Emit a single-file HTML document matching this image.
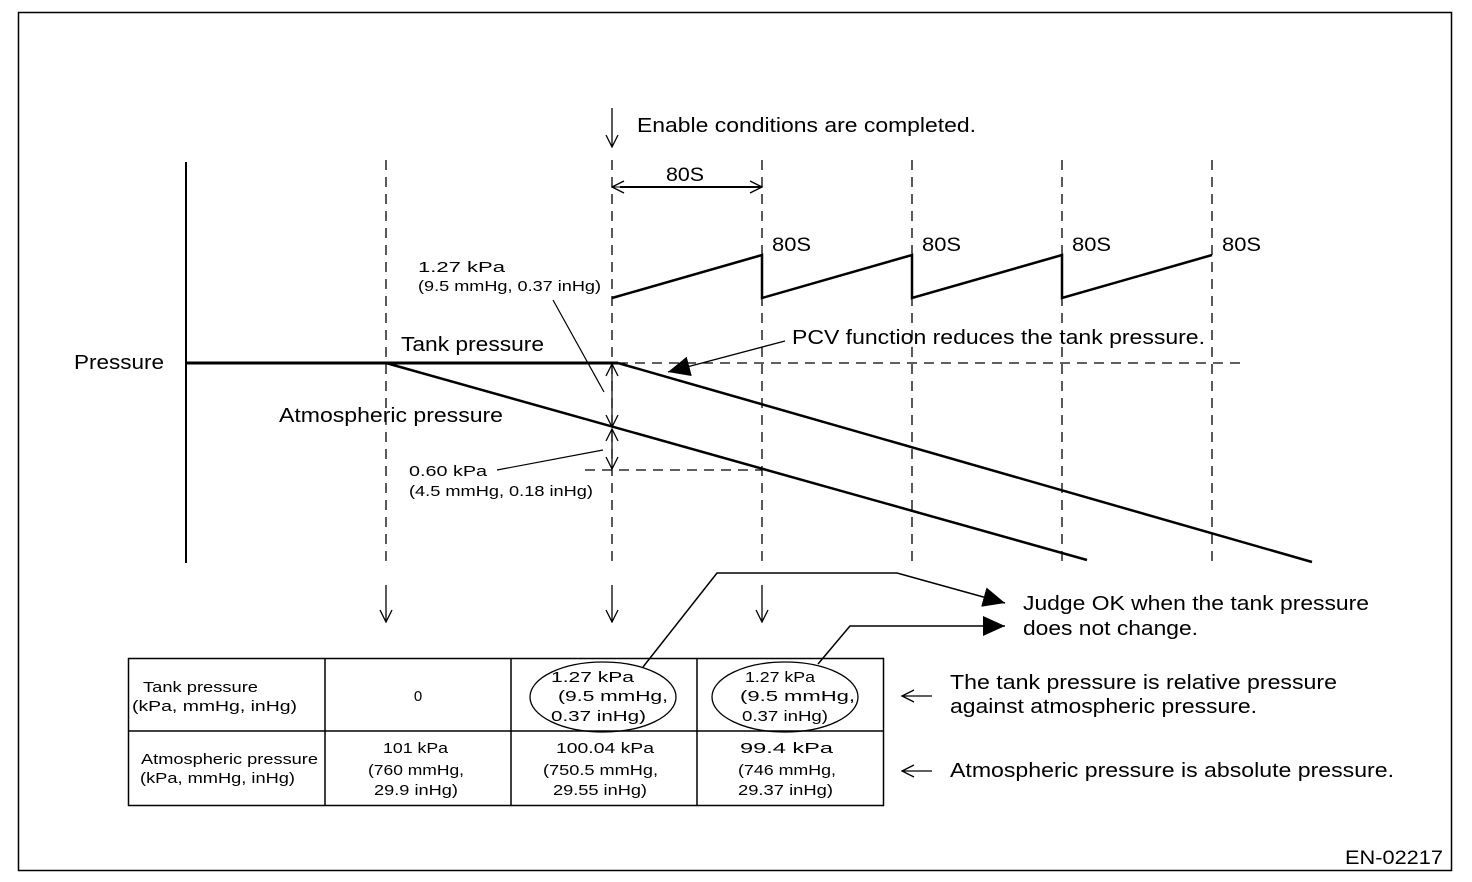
<!DOCTYPE html>
<html><head><style>
html,body{margin:0;padding:0;background:#fff}
svg{display:block}
text{font-family:"Liberation Sans",sans-serif;fill:#000}
</style></head><body>
<svg width="1472" height="882" viewBox="0 0 1472 882" xmlns="http://www.w3.org/2000/svg">
<defs>
<marker id="open" markerWidth="14" markerHeight="14" refX="13" refY="7" orient="auto" markerUnits="userSpaceOnUse"><path d="M1,1 L13,7 L1,13" fill="none" stroke="#000" stroke-width="1.3"/></marker>
<marker id="fill" markerWidth="24" markerHeight="20" refX="22" refY="10" orient="auto" markerUnits="userSpaceOnUse"><path d="M0,0 L22,10 L0,20 Z" fill="#000"/></marker>
</defs>
<rect x="18.5" y="12.5" width="1433" height="858" fill="none" stroke="#000" stroke-width="1.5"/>
<g stroke="#000" stroke-width="1.3" stroke-dasharray="10,7" fill="none">
<line x1="386" y1="160" x2="386" y2="565"/>
<line x1="612" y1="160" x2="612" y2="565"/>
<line x1="762" y1="160" x2="762" y2="565"/>
<line x1="912" y1="160" x2="912" y2="565"/>
<line x1="1062" y1="160" x2="1062" y2="565"/>
<line x1="1212" y1="160" x2="1212" y2="565"/>
<line x1="618" y1="363" x2="1245" y2="363"/>
<line x1="585" y1="470" x2="762" y2="470"/>
</g>
<g stroke="#000" fill="none">
<line x1="186" y1="162" x2="186" y2="563" stroke-width="2"/>
<line x1="186" y1="363" x2="618" y2="363" stroke-width="3"/>
<line x1="618" y1="363" x2="1312" y2="562" stroke-width="2.5"/>
<line x1="386" y1="363" x2="1087" y2="560" stroke-width="2.5"/>
<polyline points="612,298 762,255 762,298 912,255 912,298 1062,255 1062,298 1212,255" stroke-width="2.5"/>
<line x1="612" y1="108" x2="612" y2="147" stroke-width="1.3" marker-end="url(#open)"/>
<line x1="640" y1="187" x2="612" y2="187" stroke-width="1" marker-end="url(#open)"/>
<line x1="620" y1="187" x2="762" y2="187" stroke-width="2" marker-end="url(#open)"/>
<line x1="612" y1="395" x2="612" y2="364" stroke-width="1.2" marker-end="url(#open)"/>
<line x1="612" y1="395" x2="612" y2="427" stroke-width="1.2" marker-end="url(#open)"/>
<line x1="612" y1="440" x2="612" y2="429" stroke-width="1.2" marker-end="url(#open)"/>
<line x1="612" y1="440" x2="612" y2="469" stroke-width="1.2" marker-end="url(#open)"/>
<line x1="553" y1="300" x2="604" y2="392" stroke-width="1.2"/>
<line x1="497" y1="470" x2="603" y2="450" stroke-width="1.2"/>
<line x1="785" y1="341" x2="668" y2="372" stroke-width="1.3" marker-end="url(#fill)"/>
<line x1="386" y1="585" x2="386" y2="622" stroke-width="1.3" marker-end="url(#open)"/>
<line x1="612" y1="585" x2="612" y2="622" stroke-width="1.3" marker-end="url(#open)"/>
<line x1="762" y1="585" x2="762" y2="622" stroke-width="1.3" marker-end="url(#open)"/>
<polyline points="643,667 717,573 897,573 1005,603" stroke-width="1.5" marker-end="url(#fill)"/>
<polyline points="818,664 850,626 1005,626" stroke-width="1.5" marker-end="url(#fill)"/>
<line x1="932" y1="696" x2="902" y2="696" stroke-width="1.2" marker-end="url(#open)"/>
<line x1="932" y1="771" x2="902" y2="771" stroke-width="1.2" marker-end="url(#open)"/>
<rect x="128.5" y="658.5" width="755" height="147" stroke-width="1.5"/>
<line x1="128" y1="731" x2="883" y2="731" stroke-width="1.5"/>
<line x1="325" y1="658" x2="325" y2="805" stroke-width="1.5"/>
<line x1="511" y1="658" x2="511" y2="805" stroke-width="1.5"/>
<line x1="697" y1="658" x2="697" y2="805" stroke-width="1.5"/>
<ellipse cx="603" cy="697" rx="73" ry="35" stroke-width="1.3"/>
<ellipse cx="785" cy="697" rx="73" ry="35" stroke-width="1.3"/>
</g>
<g lengthAdjust="spacingAndGlyphs">
<text x="637" y="132" font-size="20" textLength="339" lengthAdjust="spacingAndGlyphs">Enable conditions are completed.</text>
<text x="666" y="181" font-size="19" textLength="38" lengthAdjust="spacingAndGlyphs">80S</text>
<text x="772" y="251" font-size="19" textLength="39" lengthAdjust="spacingAndGlyphs">80S</text>
<text x="922" y="251" font-size="19" textLength="39" lengthAdjust="spacingAndGlyphs">80S</text>
<text x="1072" y="251" font-size="19" textLength="39" lengthAdjust="spacingAndGlyphs">80S</text>
<text x="1222" y="251" font-size="19" textLength="39" lengthAdjust="spacingAndGlyphs">80S</text>
<text x="418" y="272" font-size="15" textLength="87" lengthAdjust="spacingAndGlyphs">1.27 kPa</text>
<text x="418" y="291" font-size="15" textLength="183" lengthAdjust="spacingAndGlyphs">(9.5 mmHg, 0.37 inHg)</text>
<text x="74" y="369" font-size="20" textLength="90" lengthAdjust="spacingAndGlyphs">Pressure</text>
<text x="401" y="351" font-size="20" textLength="143" lengthAdjust="spacingAndGlyphs">Tank pressure</text>
<text x="279" y="422" font-size="20" textLength="224" lengthAdjust="spacingAndGlyphs">Atmospheric pressure</text>
<text x="792" y="344" font-size="20" textLength="413" lengthAdjust="spacingAndGlyphs">PCV function reduces the tank pressure.</text>
<text x="409" y="476" font-size="15" textLength="78" lengthAdjust="spacingAndGlyphs">0.60 kPa</text>
<text x="409" y="496" font-size="15" textLength="184" lengthAdjust="spacingAndGlyphs">(4.5 mmHg, 0.18 inHg)</text>
<text x="1023" y="610" font-size="20" textLength="346" lengthAdjust="spacingAndGlyphs">Judge OK when the tank pressure</text>
<text x="1023" y="635" font-size="20" textLength="175" lengthAdjust="spacingAndGlyphs">does not change.</text>
<text x="950" y="689" font-size="20" textLength="387" lengthAdjust="spacingAndGlyphs">The tank pressure is relative pressure</text>
<text x="950" y="713" font-size="20" textLength="307" lengthAdjust="spacingAndGlyphs">against atmospheric pressure.</text>
<text x="950" y="777" font-size="20" textLength="444" lengthAdjust="spacingAndGlyphs">Atmospheric pressure is absolute pressure.</text>
<g font-size="15">
<text x="143" y="692" textLength="115" lengthAdjust="spacingAndGlyphs">Tank pressure</text>
<text x="132" y="711" textLength="165" lengthAdjust="spacingAndGlyphs">(kPa, mmHg, inHg)</text>
<text x="141" y="764" textLength="177" lengthAdjust="spacingAndGlyphs">Atmospheric pressure</text>
<text x="140" y="783" textLength="155" lengthAdjust="spacingAndGlyphs">(kPa, mmHg, inHg)</text>
<text x="418" y="701" text-anchor="middle">0</text>
<text x="383" y="753" textLength="65" lengthAdjust="spacingAndGlyphs">101 kPa</text>
<text x="368" y="775" textLength="96" lengthAdjust="spacingAndGlyphs">(760 mmHg,</text>
<text x="374" y="795" textLength="84" lengthAdjust="spacingAndGlyphs">29.9 inHg)</text>
<text x="556" y="753" textLength="98" lengthAdjust="spacingAndGlyphs">100.04 kPa</text>
<text x="543" y="775" textLength="115" lengthAdjust="spacingAndGlyphs">(750.5 mmHg,</text>
<text x="553" y="795" textLength="94" lengthAdjust="spacingAndGlyphs">29.55 inHg)</text>
<text x="740" y="753" textLength="93" lengthAdjust="spacingAndGlyphs">99.4 kPa</text>
<text x="738" y="775" textLength="98" lengthAdjust="spacingAndGlyphs">(746 mmHg,</text>
<text x="738" y="795" textLength="95" lengthAdjust="spacingAndGlyphs">29.37 inHg)</text>
<text x="551" y="682" textLength="83" lengthAdjust="spacingAndGlyphs">1.27 kPa</text>
<text x="558" y="701" textLength="110" lengthAdjust="spacingAndGlyphs">(9.5 mmHg,</text>
<text x="551" y="721" textLength="95" lengthAdjust="spacingAndGlyphs">0.37 inHg)</text>
<text x="745" y="682" textLength="70" lengthAdjust="spacingAndGlyphs">1.27 kPa</text>
<text x="740" y="701" textLength="115" lengthAdjust="spacingAndGlyphs">(9.5 mmHg,</text>
<text x="742" y="721" textLength="86" lengthAdjust="spacingAndGlyphs">0.37 inHg)</text>
</g>
<text x="1345" y="864" font-size="19" textLength="98" lengthAdjust="spacingAndGlyphs">EN-02217</text>
</g>
</svg>
</body></html>
